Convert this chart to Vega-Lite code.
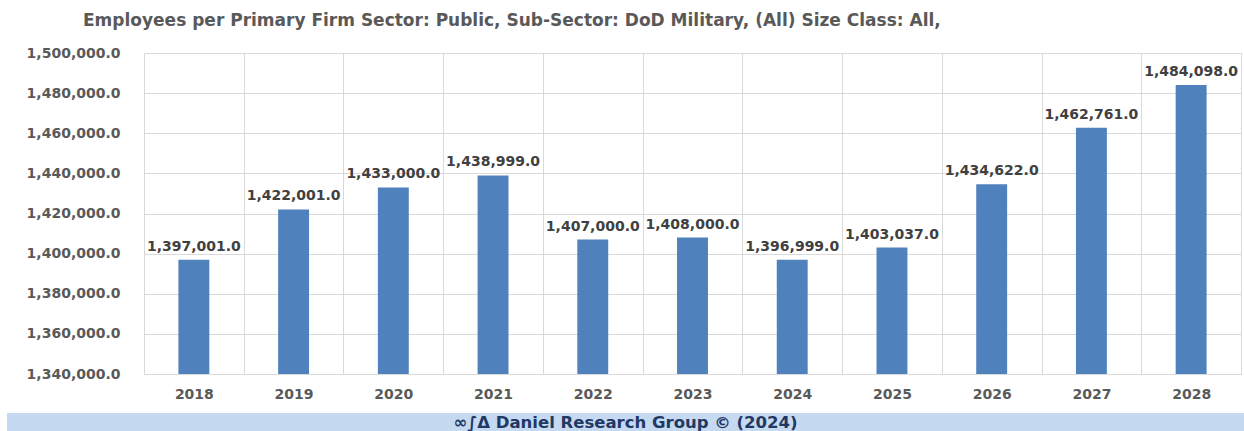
{
  "$schema": "https://vega.github.io/schema/vega-lite/v6.json",
  "padding": {"left": 7, "top": 12, "right": 0, "bottom": 0},
  "background": "white",
  "spacing": 12,
  "config": {"view": {"stroke": null}, "font": "DejaVu Sans"},
  "vconcat": [
    {
      "title": {
        "text": "Employees per Primary Firm Sector: Public, Sub-Sector: DoD Military, (All) Size Class: All,",
        "anchor": "start", "frame": "group", "dx": 76, "offset": 16,
        "font": "DejaVu Sans", "fontSize": 17, "fontWeight": "bold", "color": "#595959"
      },
      "width": 1237,
      "height": 321,
      "data": {"values": [
        {"year": "2018", "value": 1397001},
        {"year": "2019", "value": 1422001},
        {"year": "2020", "value": 1433000},
        {"year": "2021", "value": 1438999},
        {"year": "2022", "value": 1407000},
        {"year": "2023", "value": 1408000},
        {"year": "2024", "value": 1396999},
        {"year": "2025", "value": 1403037},
        {"year": "2026", "value": 1434622},
        {"year": "2027", "value": 1462761},
        {"year": "2028", "value": 1484098}
      ]},
      "encoding": {
        "x": {
          "field": "year", "type": "ordinal",
          "scale": {"paddingInner": 0, "paddingOuter": 0, "range": [137, 1234]},
          "axis": {
            "title": null, "labelAngle": 0, "ticks": false, "domainColor": "#d9d9d9",
            "grid": true, "gridColor": "#d9d9d9", "tickBand": "extent",
            "labelFont": "DejaVu Sans", "labelFontWeight": "bold", "labelFontSize": 14,
            "labelColor": "#595959", "labelPadding": 13
          }
        },
        "y": {
          "field": "value", "type": "quantitative",
          "scale": {"domain": [1340000, 1500000], "nice": false, "zero": false},
          "axis": {
            "title": null, "ticks": false, "domain": false, "offset": -137,
            "values": [1340000, 1360000, 1380000, 1400000, 1420000, 1440000, 1460000, 1480000, 1500000],
            "format": ",.1f", "gridColor": "#d9d9d9",
            "labelFont": "DejaVu Sans", "labelFontWeight": "bold", "labelFontSize": 14,
            "labelColor": "#595959", "labelPadding": 24
          }
        }
      },
      "layer": [
        {"mark": {"type": "bar", "color": "#4f81bd", "width": {"band": 0.31}, "clip": true}},
        {
          "mark": {"type": "text", "baseline": "alphabetic", "dy": -9, "font": "DejaVu Sans", "fontWeight": "bold", "fontSize": 14, "color": "#404040"},
          "encoding": {"text": {"field": "value", "type": "quantitative", "format": ",.1f"}}
        }
      ]
    },
    {
      "width": 1237,
      "height": 19,
      "view": {"fill": "#c5d9f1", "stroke": null},
      "data": {"values": [{"footer": "∞∫Δ Daniel Research Group © (2024)"}]},
      "mark": {"type": "text", "font": "DejaVu Sans", "fontWeight": "bold", "fontSize": 16.5, "color": "#1f3864", "baseline": "middle"},
      "encoding": {"text": {"field": "footer", "type": "nominal"}}
    }
  ]
}
